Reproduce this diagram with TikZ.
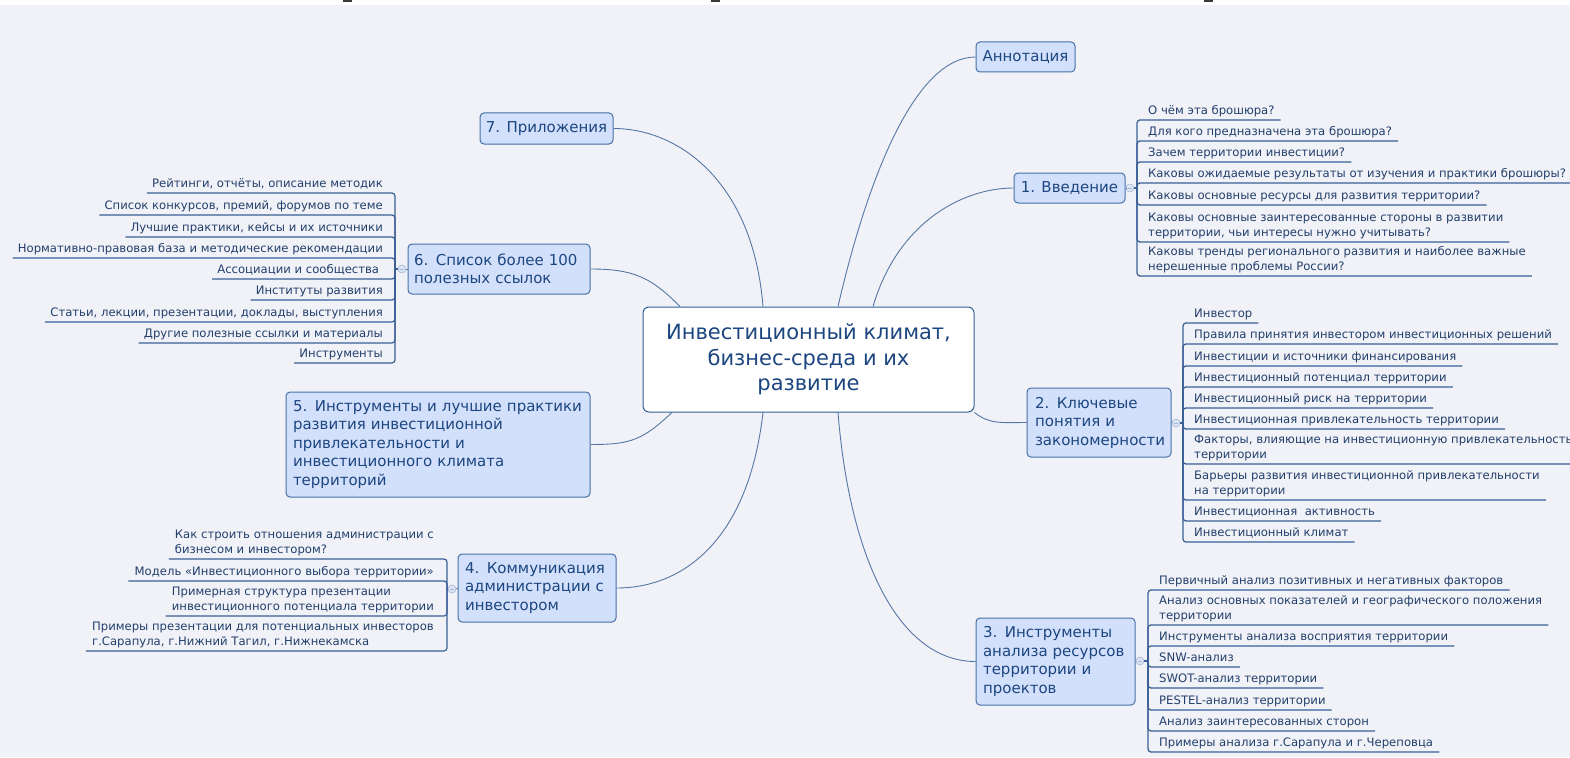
\documentclass[tikz,border=0pt]{standalone}
\usepackage{fontspec}
\setmainfont{DejaVu Sans}
\definecolor{bg}{HTML}{F1F2F7}
\definecolor{txt}{HTML}{1C4680}
\definecolor{ctxt}{HTML}{223F6C}
\definecolor{boxfill}{HTML}{D3E0FB}
\definecolor{boxdraw}{HTML}{4670A8}
\definecolor{maindraw}{HTML}{2F5E98}
\definecolor{connc}{HTML}{5577A6}
\definecolor{ulinec}{HTML}{3A5F95}
\definecolor{hubfill}{HTML}{DCE4F3}
\definecolor{hubdraw}{HTML}{A6B8D8}
\definecolor{markc}{HTML}{3A3A3A}
\tikzset{
  mainbox/.style={draw=maindraw, fill=white, rounded corners=6pt, line width=1pt,
    font=\fontsize{21}{25.5}\selectfont, text=txt, align=center, inner sep=0pt},
  branch/.style={draw=boxdraw, fill=boxfill, rounded corners=4pt, line width=1pt,
    font=\fontsize{15}{18.5}\selectfont, text=txt, inner ysep=0pt},
  lbranch/.style={branch, align=left},
  item/.style={font=\fontsize{11.65}{14.5}\selectfont, text=ctxt, inner ysep=2.5pt, inner xsep=6pt, text depth=3pt},
  ritem/.style={item, anchor=south west, align=left},
  litem/.style={item, anchor=south east, align=left},
  lritem/.style={item, anchor=south east, align=right, inner xsep=5pt},
  hub/.style={circle, minimum size=8pt, inner sep=0pt, fill=hubfill, draw=hubdraw, line width=0.6pt},
  conn/.style={draw=connc, line width=0.9pt},
  uline/.style={draw=ulinec, line width=1.2pt, rounded corners=3pt},
}
\newcommand{\hubminus}[1]{\draw[hubdraw, line width=0.8pt] ([xshift=-2.4pt]#1.center) -- ([xshift=2.4pt]#1.center);}
\begin{document}
\begin{tikzpicture}[x=1pt,y=-1pt]
\useasboundingbox (0,0) rectangle (1570,757);
\fill[bg] (0,5) rectangle (1570,757);
\fill[white] (0,0) rectangle (1570,5);
\fill[markc] (343,0) rectangle (352,2);
\fill[markc] (711,0) rectangle (720,2);
\fill[markc] (1204,0) rectangle (1213,2);

% central topic
\node[mainbox, minimum width=331pt, minimum height=105pt] (main) at (808.5,359.5)
  {Инвестиционный климат,\\бизнес-среда и их\\развитие};

% branches
\node[branch, minimum width=99pt, minimum height=30pt] (ann) at (1025.5,57) {Аннотация};
\node[branch, minimum width=111pt, minimum height=30pt] (b1) at (1069.5,188) {1. Введение};
\node[lbranch, text width=128pt, inner xsep=8pt, minimum height=69pt] (b2) at (1099,422.5)
  {2. Ключевые\\понятия и\\закономерности};
\node[lbranch, text width=145pt, inner xsep=7pt, minimum height=87pt] (b3) at (1055.5,661.5)
  {3. Инструменты\\анализа ресурсов\\территории и\\проектов};
\node[lbranch, text width=144pt, inner xsep=7pt, minimum height=68pt] (b4) at (537,588)
  {4. Коммуникация\\администрации с\\инвестором};
\node[lbranch, text width=290pt, inner xsep=7pt, minimum height=105pt] (b5) at (438,444.5)
  {5. Инструменты и лучшие практики\\развития инвестиционной\\привлекательности и\\инвестиционного климата\\территорий};
\node[lbranch, text width=170pt, inner xsep=6pt, minimum height=50pt] (b6) at (499,269)
  {6. Список более 100\\полезных ссылок};
\node[branch, minimum width=133pt, minimum height=31pt] (b7) at (546.5,128.5) {7. Приложения};

% main connectors
\draw[conn] ([xshift=29.5pt]main.north) .. controls +(30,-130) and +(-60,0) .. (ann.west);
\draw[conn] ([xshift=64.5pt]main.north) .. controls +(25,-85) and +(-50,0) .. (b1.west);
\draw[conn] (main.south east) .. controls +(15,12) and +(-25,0) .. (b2.west);
\draw[conn] ([xshift=29.5pt]main.south) .. controls +(12,150) and +(-75,0) .. (b3.west);
\draw[conn] ([xshift=-45.5pt]main.south) .. controls +(-15,130) and +(65,0) .. (b4.east);
\draw[conn] ([xshift=-136.5pt]main.south) .. controls +(-30,28) and +(40,0) .. (b5.east);
\draw[conn] ([xshift=-128.5pt]main.north) .. controls +(-28,-28) and +(45,0) .. (b6.east);
\draw[conn] ([xshift=-45.5pt]main.north) .. controls +(-10,-125) and +(65,0) .. (b7.east);

% ---------- section 1
\node[hub] (h1) at (1130,188) {};
\coordinate (v1) at (1137,188);
\node[ritem] (i11) at (1142,120) {О чём эта брошюра?};
\node[ritem] (i12) at (1142,141) {Для кого предназначена эта брошюра?};
\node[ritem] (i13) at (1142,162) {Зачем территории инвестиции?};
\node[ritem] (i14) at (1142,183) {Каковы ожидаемые результаты от изучения и практики брошюры?};
\node[ritem] (i15) at (1142,205) {Каковы основные ресурсы для развития территории?};
\node[ritem] (i16) at (1142,242) {Каковы основные заинтересованные стороны в развитии\\территории, чьи интересы нужно учитывать?};
\node[ritem] (i17) at (1142,276) {Каковы тренды регионального развития и наиболее важные\\нерешенные проблемы России?};
\draw[conn] (b1.east) -- (h1.west);
\draw[uline, rounded corners=0pt] (h1.east) -- (v1);
\foreach \n in {i11,i12,i13,i14,i15,i16,i17}{
  \draw[uline] (v1) |- (\n.south west) -- (\n.south east);
}
\hubminus{h1}

% ---------- section 2
\node[hub] (h2) at (1176,423) {};
\coordinate (v2) at (1183,423);
\node[ritem] (i21) at (1188,323) {Инвестор};
\node[ritem] (i22) at (1188,344) {Правила принятия инвестором инвестиционных решений};
\node[ritem] (i23) at (1188,366) {Инвестиции и источники финансирования};
\node[ritem] (i24) at (1188,387) {Инвестиционный потенциал территории};
\node[ritem] (i25) at (1188,408) {Инвестиционный риск на территории};
\node[ritem] (i26) at (1188,429) {Инвестиционная привлекательность территории};
\node[ritem] (i27) at (1188,464) {Факторы, влияющие на инвестиционную привлекательность\\территории};
\node[ritem] (i28) at (1188,500) {Барьеры развития инвестиционной привлекательности\\на территории};
\node[ritem] (i29) at (1188,521) {Инвестиционная\ \ активность};
\node[ritem] (i2a) at (1188,542) {Инвестиционный климат};
\draw[conn] (b2.east) -- (h2.west);
\draw[uline, rounded corners=0pt] (h2.east) -- (v2);
\foreach \n in {i21,i22,i23,i24,i25,i26,i27,i28,i29,i2a}{
  \draw[uline] (v2) |- (\n.south west) -- (\n.south east);
}
\hubminus{h2}

% ---------- section 3
\node[hub] (h3) at (1140,661) {};
\coordinate (v3) at (1148,661);
\node[ritem] (i31) at (1153,590) {Первичный анализ позитивных и негативных факторов};
\node[ritem] (i32) at (1153,625) {Анализ основных показателей и географического положения\\территории};
\node[ritem] (i33) at (1153,646) {Инструменты анализа восприятия территории};
\node[ritem] (i34) at (1153,667) {SNW-анализ};
\node[ritem] (i35) at (1153,688) {SWOT-анализ территории};
\node[ritem] (i36) at (1153,710) {PESTEL-анализ территории};
\node[ritem] (i37) at (1153,731) {Анализ заинтересованных сторон};
\node[ritem] (i38) at (1153,752) {Примеры анализа г.Сарапула и г.Череповца};
\draw[conn] (b3.east) -- (h3.west);
\draw[uline, rounded corners=0pt] (h3.east) -- (v3);
\foreach \n in {i31,i32,i33,i34,i35,i36,i37,i38}{
  \draw[uline] (v3) |- (\n.south west) -- (\n.south east);
}
\hubminus{h3}

% ---------- section 4
\node[hub] (h4) at (452,589) {};
\coordinate (v4) at (447,589);
\node[litem] (i41) at (440,559) {Как строить отношения администрации с\\бизнесом и инвестором?};
\node[litem] (i42) at (440,581) {Модель «Инвестиционного выбора территории»};
\node[litem] (i43) at (440,616) {Примерная структура презентации\\инвестиционного потенциала территории};
\node[litem] (i44) at (440,651) {Примеры презентации для потенциальных инвесторов\\г.Сарапула, г.Нижний Тагил, г.Нижнекамска};
\draw[conn] (b4.west) -- (h4.east);
\draw[uline, rounded corners=0pt] (h4.west) -- (v4);
\foreach \n in {i41,i42,i43,i44}{
  \draw[uline] (v4) |- (\n.south east) -- (\n.south west);
}
\hubminus{h4}

% ---------- section 6
\node[hub] (h6) at (402,269) {};
\coordinate (v6) at (395,269);
\node[lritem] (i61) at (388,193) {Рейтинги, отчёты, описание методик};
\node[lritem] (i62) at (388,215) {Список конкурсов, премий, форумов по теме};
\node[lritem] (i63) at (388,237) {Лучшие практики, кейсы и их источники};
\node[lritem] (i64) at (388,258) {Нормативно-правовая база и методические рекомендации};
\node[lritem] (i65) at (388,279) {Ассоциации и сообщества\ };
\node[lritem] (i66) at (388,300) {Институты развития};
\node[lritem] (i67) at (388,322) {Статьи, лекции, презентации, доклады, выступления};
\node[lritem] (i68) at (388,343) {Другие полезные ссылки и материалы};
\node[lritem] (i69) at (388,363) {Инструменты};
\draw[conn] (b6.west) -- (h6.east);
\draw[uline, rounded corners=0pt] (h6.west) -- (v6);
\foreach \n in {i61,i62,i63,i64,i65,i66,i67,i68,i69}{
  \draw[uline] (v6) |- (\n.south east) -- (\n.south west);
}
\hubminus{h6}
\end{tikzpicture}
\end{document}
